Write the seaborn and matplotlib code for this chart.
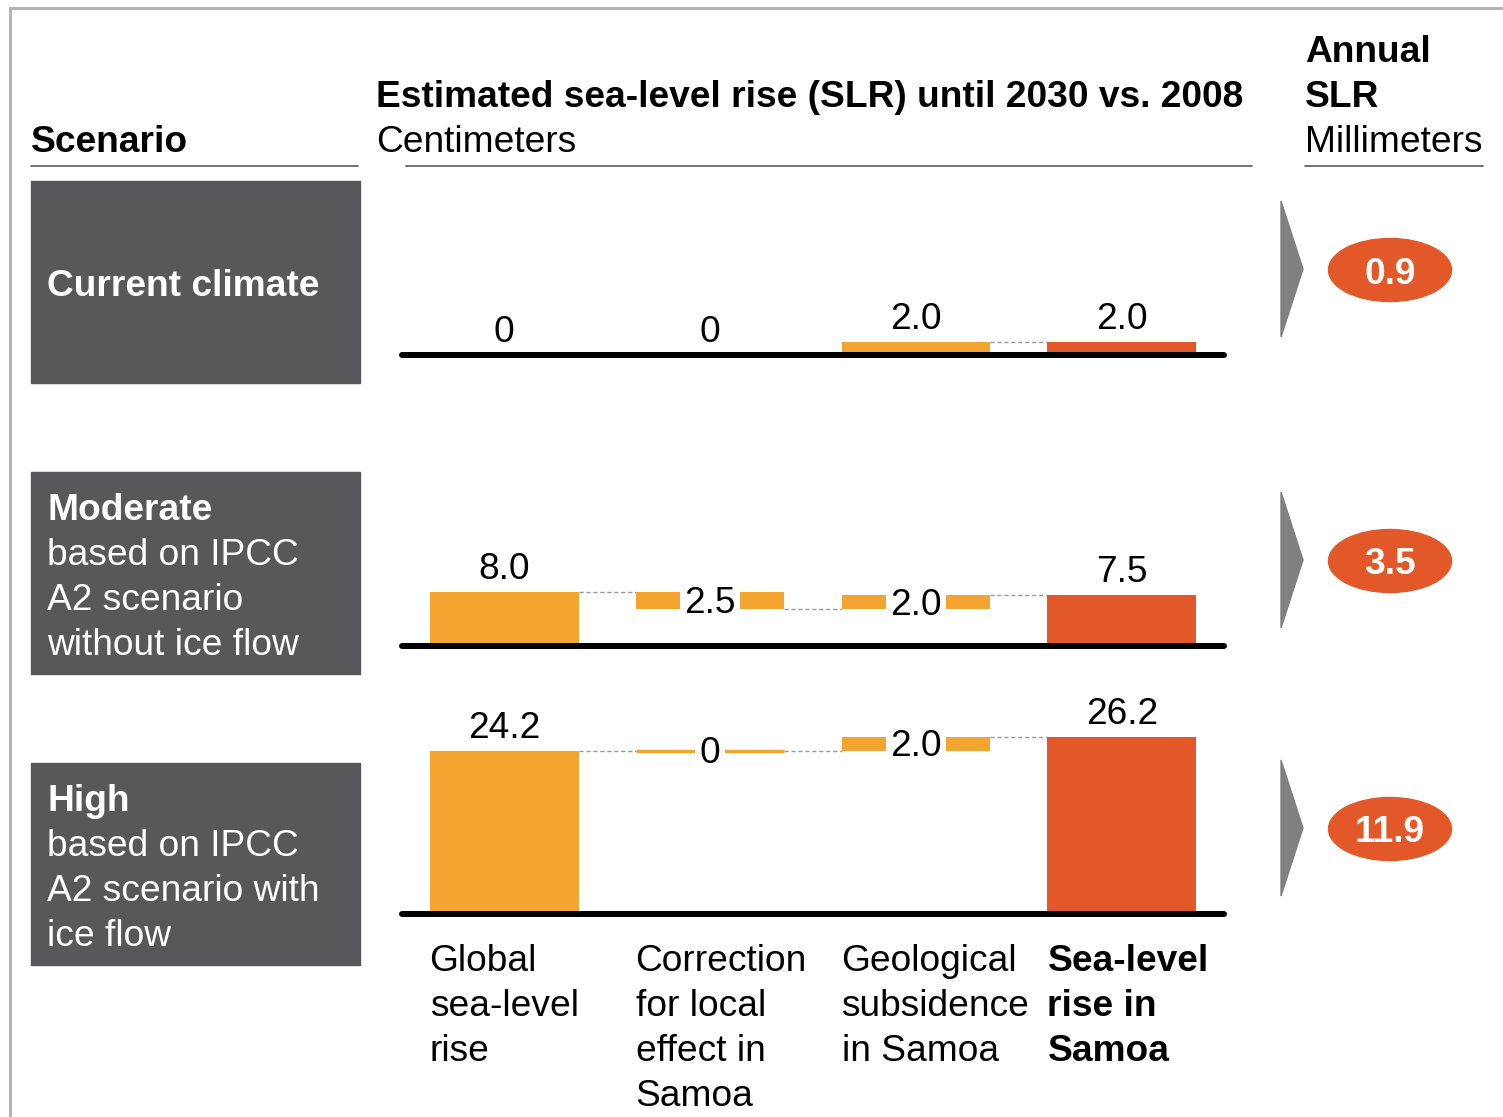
import numpy as np
import pandas as pd
import matplotlib.pyplot as plt
import seaborn as sns
from matplotlib.patches import Rectangle, Ellipse, Polygon
from matplotlib.lines import Line2D
from matplotlib import transforms

# data
steps = ["Global\nsea-level\nrise",
         "Correction\nfor local\neffect in\nSamoa",
         "Geological\nsubsidence\nin Samoa",
         "Sea-level\nrise in\nSamoa"]
scenario_titles = ["Current climate", "Moderate", "High"]
scenario_notes = [[],
                  ["based on IPCC", "A2 scenario", "without ice flow"],
                  ["based on IPCC", "A2 scenario with", "ice flow"]]
global_rise = [0.0, 8.0, 24.2]
local_correction = [0.0, -2.5, 0.0]
subsidence = [2.0, 2.0, 2.0]
samoa_rise = [2.0, 7.5, 26.2]
annual_slr = [0.9, 3.5, 11.9]

ORANGE = "#F3A431"
RED = "#E25828"
BOX = "#58585A"
W, H = 1503, 1117
FS = 26.7

sns.set_style("white")
plt.rcParams["font.family"] = ["Liberation Sans", "DejaVu Sans"]
plt.rcParams["font.size"] = FS
plt.rcParams["text.color"] = "black"

fig = plt.figure(figsize=(W / 100, H / 100), dpi=100)


def fx(px):
    return px / W


def fy(px):
    return 1 - px / H


def ftext(x, y, s, **kw):
    fig.text(fx(x), fy(y), s, va="baseline", ha="left", **kw)


def hline(x0, x1, y, **kw):
    fig.add_artist(Line2D([fx(x0), fx(x1)], [fy(y), fy(y)], transform=fig.transFigure, **kw))


# outer frame (top and left edges)
hline(10, W, 8, color="#b4b4b4", lw=2.2)
fig.add_artist(Line2D([fx(10), fx(10)], [fy(8), 0], transform=fig.transFigure, color="#b4b4b4", lw=2.2))

# headers
ftext(31, 152, "Scenario", fontweight="bold")
hline(31, 358, 166, color="#595959", lw=1.2)
ftext(376, 107, "Estimated sea-level rise (SLR) until 2030 vs. 2008", fontweight="bold")
ftext(376, 152, "Centimeters")
hline(406, 1252, 166, color="#595959", lw=1.2)
ftext(1305, 62, "Annual", fontweight="bold")
ftext(1305, 107, "SLR", fontweight="bold")
ftext(1305, 152, "Millimeters")
hline(1305, 1483, 166, color="#595959", lw=1.2)

px_per_cm = 6.75
ax_h = 200
baselines = [355, 646, 914]
box_tops = [181, 472, 763]
bar_w = 0.723
xlim = (-0.51, 3.51)

for r in range(3):
    base = baselines[r]
    levels = np.cumsum([global_rise[r], local_correction[r], subsidence[r]])
    bottoms = [0, min(levels[0], levels[1]), min(levels[1], levels[2]), 0]
    heights = [global_rise[r], abs(local_correction[r]), abs(subsidence[r]), samoa_rise[r]]
    values = [global_rise[r], local_correction[r], subsidence[r], samoa_rise[r]]

    ax = fig.add_axes([fx(399), fy(base), fx(1227) - fx(399), ax_h / H])
    df = pd.DataFrame({"step": steps, "height": heights})
    sns.barplot(data=df, x="step", y="height", bottom=bottoms, color=ORANGE,
                saturation=1, width=bar_w, errorbar=None, ax=ax)
    for p in ax.patches:
        p.set_linewidth(0)
        if p.get_height() == 0:
            p.set_linewidth(2.5)
            p.set_edgecolor(p.get_facecolor())
    ax.patches[-1].set_facecolor(RED)
    ax.set_xlim(*xlim)
    ax.set_ylim(0, ax_h / px_per_cm)
    ax.axis("off")

    ax.plot([-0.495, 3.495], [0, 0], color="black", lw=4.3, solid_capstyle="round",
            clip_on=False, zorder=5)

    # dashed connectors
    for i, lvl in enumerate(levels):
        if lvl > 0:
            ax.plot([i + bar_w / 2, i + 1 - bar_w / 2], [lvl, lvl], color="#9a9a9a",
                    lw=1, ls=(0, (3, 2)), zorder=1)

    # value labels
    for i in range(4):
        lab = "0" if values[i] == 0 else f"{abs(values[i]):.1f}"
        top = bottoms[i] + heights[i]
        if r > 0 and i in (1, 2):
            ax.annotate(lab, (i, bottoms[i] + heights[i] / 2), xytext=(0, -3),
                        textcoords="offset pixels", ha="center", va="center", zorder=6,
                        bbox=dict(boxstyle="square,pad=0.12", fc="white", ec="none"))
        else:
            ax.annotate(lab, (i, top), xytext=(0, 13), textcoords="offset pixels",
                        ha="center", va="baseline")

    # scenario box
    top_px = box_tops[r]
    fig.add_artist(Rectangle((fx(31), fy(top_px + 202)), fx(360) - fx(31), 202 / H,
                             transform=fig.transFigure, color=BOX))
    if scenario_notes[r]:
        ftext(47, top_px + 48, scenario_titles[r], color="white", fontweight="bold")
        for k, line in enumerate(scenario_notes[r]):
            ftext(47, top_px + 48 + 45 * (k + 1), line, color="white")
    else:
        ftext(47, top_px + 115, scenario_titles[r], color="white", fontweight="bold")

    # arrow and annual SLR bubble
    c = base - 86
    fig.add_artist(Polygon([(fx(1281), fy(c - 68)), (fx(1281), fy(c + 68)), (fx(1303), fy(c))],
                           closed=True, transform=fig.transFigure, color="#808080"))
    fig.add_artist(Ellipse((fx(1390), fy(c + 1)), 123 / W, 63 / H, transform=fig.transFigure,
                           color=RED))
    fig.text(fx(1390), fy(c + 1), f"{annual_slr[r]:.1f}", ha="center", va="center_baseline",
             color="white", fontweight="bold")

    if r == 2:
        tr = transforms.blended_transform_factory(ax.transData, fig.transFigure)
        for i, lab in enumerate(steps):
            for k, line in enumerate(lab.split("\n")):
                ax.text(i - bar_w / 2, fy(971 + 45 * k), line, transform=tr, ha="left",
                        va="baseline", fontweight="bold" if i == 3 else "normal")

fig.savefig("out.png", dpi=100)
